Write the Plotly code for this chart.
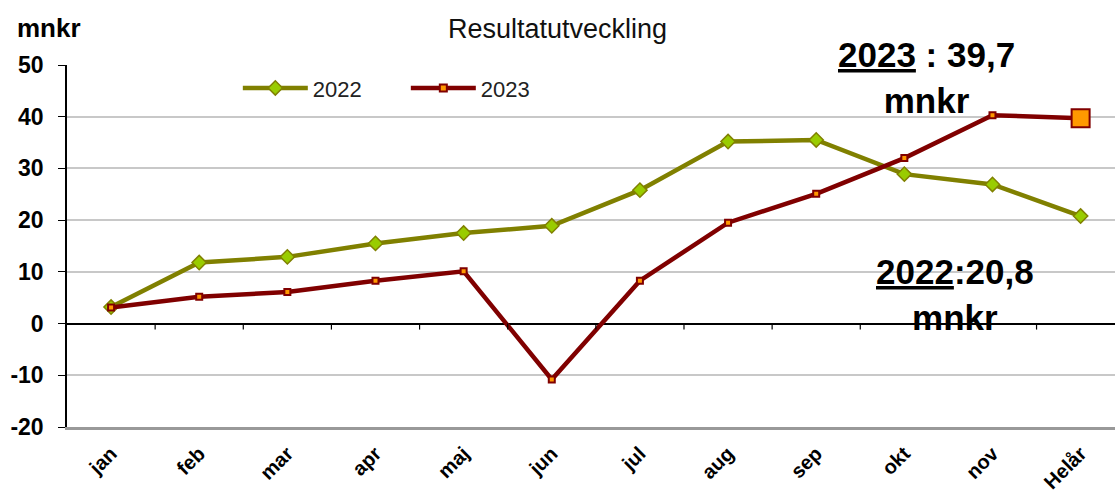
import plotly.graph_objects as go

categories = ["jan", "feb", "mar", "apr", "maj", "jun", "jul", "aug", "sep", "okt", "nov", "Helår"]
values_2022 = [3.2, 11.8, 12.9, 15.5, 17.5, 18.9, 25.8, 35.2, 35.5, 28.9, 26.9, 20.8]
values_2023 = [3.1, 5.2, 6.1, 8.3, 10.1, -10.8, 8.3, 19.5, 25.1, 32.0, 40.3, 39.7]
y_ticks = [-20, -10, 0, 10, 20, 30, 40, 50]

OLIVE = "#808000"
OLIVE_FILL = "#99cc00"
DARKRED = "#800000"
ORANGE = "#ff9900"
FONT = "Liberation Sans, Arial, sans-serif"

fig = go.Figure()

fig.add_trace(go.Scatter(
    x=categories, y=values_2022, name="2022", mode="lines+markers",
    line=dict(color=OLIVE, width=4.5),
    marker=dict(symbol="diamond", size=11, color=OLIVE_FILL, line=dict(color=OLIVE, width=1.5)),
))

sizes_2023 = [6] * (len(categories) - 1) + [18]
fig.add_trace(go.Scatter(
    x=categories, y=values_2023, name="2023", mode="lines+markers",
    line=dict(color=DARKRED, width=4.5),
    marker=dict(symbol="square", size=sizes_2023, color=ORANGE, opacity=1,
                line=dict(color=DARKRED, width=2)),
))

# small tick marks on the zero line at category boundaries
shapes = []
for i in range(len(categories) - 1):
    shapes.append(dict(
        type="line", xref="x", yref="y", ysizemode="pixel", yanchor=0,
        x0=i + 0.5, x1=i + 0.5, y0=0, y1=-6,
        line=dict(color="black", width=1.2), layer="above",
    ))

annotations = [
    dict(text="<b>mnkr</b>", xref="paper", yref="paper", x=0, y=1,
         xanchor="right", yanchor="middle", xshift=16, yshift=37,
         showarrow=False, font=dict(size=26, color="black", family=FONT)),
    dict(text="<b><u>2023</u> : 39,7<br>mnkr</b>", xref="x", yref="y", x=9.25, y=47.5,
         xanchor="center", yanchor="middle", showarrow=False,
         font=dict(size=35, color="black", family=FONT)),
    dict(text="<b><u>2022</u>:20,8<br>mnkr</b>", xref="x", yref="y", x=9.58, y=5.6,
         xanchor="center", yanchor="middle", showarrow=False,
         font=dict(size=35, color="black", family=FONT)),
]

fig.update_layout(
    width=1115, height=497,
    margin=dict(l=67, r=0, t=65, b=70, autoexpand=False),
    paper_bgcolor="white", plot_bgcolor="white",
    font=dict(family=FONT, color="black"),
    title=dict(text="Resultatutveckling", x=0.5, xref="container", xanchor="center",
               y=1 - 29 / 497, yref="container", yanchor="middle",
               font=dict(size=27, color="#111111", family=FONT)),
    showlegend=True,
    legend=dict(orientation="h", x=0.163, xanchor="left", y=0.936, yanchor="middle",
                bgcolor="rgba(0,0,0,0)", font=dict(size=22, color="#222222", family=FONT),
                itemwidth=65, entrywidth=88, tracegroupgap=0),
    shapes=shapes,
    annotations=annotations,
)

fig.update_xaxes(
    type="category", categoryorder="array", categoryarray=categories,
    range=[-0.5, 11.39], automargin=False,
    showgrid=False, showline=True, linecolor="#999999", linewidth=3,
    ticks="", tickangle=-45, ticklabelstandoff=4,
    tickfont=dict(size=20, color="black", family=FONT, weight="bold"),
)
fig.update_yaxes(
    range=[-20, 50], tickvals=y_ticks, ticktext=[str(v) for v in y_ticks],
    automargin=False,
    showgrid=True, gridcolor="#c8c8c8", gridwidth=2,
    zeroline=True, zerolinecolor="black", zerolinewidth=1.5,
    showline=True, linecolor="black", linewidth=1.5,
    ticks="outside", ticklen=7, tickcolor="black", tickwidth=1.2,
    ticklabelstandoff=10,
    tickfont=dict(size=23, color="black", family=FONT, weight="bold"),
)

fig.write_html("out.html", config={"displayModeBar": False},
               post_script="document.body.style.margin='0';document.body.style.overflow='hidden';")
